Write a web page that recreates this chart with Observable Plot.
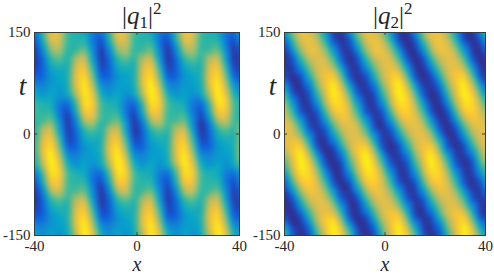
<!DOCTYPE html>
<html><head><meta charset="utf-8">
<script src="https://cdn.jsdelivr.net/npm/d3@7"></script>
<script src="https://cdn.jsdelivr.net/npm/@observablehq/plot@0.6"></script>
<style>
html,body{margin:0;padding:0;background:#fff;width:494px;height:274px;overflow:hidden}
#wrap{position:relative;width:494px;height:274px}
#wrap svg{position:absolute;top:0;overflow:visible}
.ttl{position:absolute;top:0px;font:25px "Liberation Serif",serif;color:#262626;white-space:nowrap;line-height:32px}
.ttl sub{font-size:17px;line-height:0;vertical-align:-4px}
.ttl sup{font-size:17px;line-height:0;vertical-align:10px}
</style></head><body><div id="wrap"></div>
<script>
const xGrid=[-40,-36.75,-33.5,-30.25,-27,-23.75,-20.5,-17.25,-14,-10.75,-7.5,-4.25,-1,2.25,5.5,8.75,12,15.25,18.5,21.75,25,28.25,31.5,34.75,38,41.25];
const tGrid=[150,137,124,111,98,85,72,59,46,33,20,7,-6,-19,-32,-45,-58,-71,-84,-97,-110,-123,-136,-149,-162];
const q1=[
[16,50,85,80,52,45,42,22,16,50,85,80,52,45,42,22,16,50,85,80,52,45,42,22,16,50],
[6,42,80,78,50,48,50,20,6,42,80,78,50,48,50,20,6,42,80,78,50,48,50,20,6,42],
[0,26,66,72,48,50,60,30,0,26,66,72,48,50,60,30,0,26,66,72,48,50,60,30,0,26],
[0,16,50,58,46,70,78,36,0,16,50,58,46,70,78,36,0,16,50,58,46,70,78,36,0,16],
[4,13,40,46,42,78,88,50,4,13,40,46,42,78,88,50,4,13,40,46,42,78,88,50,4,13],
[12,14,32,38,44,82,94,62,12,14,32,38,44,82,94,62,12,14,32,38,44,82,94,62,12,14],
[28,24,35,35,42,80,100,74,28,24,35,35,42,80,100,74,28,24,35,35,42,80,100,74,28,24],
[42,30,40,30,40,70,100,84,42,30,40,30,40,70,100,84,42,30,40,30,40,70,100,84,42,30],
[52,45,42,22,16,52,96,90,52,45,42,22,16,52,96,90,52,45,42,22,16,52,96,90,52,45],
[52,48,50,20,6,42,88,86,52,48,50,20,6,42,88,86,52,48,50,20,6,42,88,86,52,48],
[50,52,60,30,0,26,72,78,50,52,60,30,0,26,72,78,50,52,60,30,0,26,72,78,50,52],
[46,70,78,36,0,16,50,58,46,70,78,36,0,16,50,58,46,70,78,36,0,16,50,58,46,70],
[42,78,88,50,4,13,40,46,42,78,88,50,4,13,40,46,42,78,88,50,4,13,40,46,42,78],
[44,82,94,62,12,14,32,38,44,82,94,62,12,14,32,38,44,82,94,62,12,14,32,38,44,82],
[42,80,100,74,28,24,35,35,42,80,100,74,28,24,35,35,42,80,100,74,28,24,35,35,42,80],
[40,70,100,84,42,30,40,30,40,70,100,84,42,30,40,30,40,70,100,84,42,30,40,30,40,70],
[16,52,96,90,52,45,42,22,16,52,96,90,52,45,42,22,16,52,96,90,52,45,42,22,16,52],
[6,42,88,86,52,48,50,20,6,42,88,86,52,48,50,20,6,42,88,86,52,48,50,20,6,42],
[0,26,72,78,50,52,60,30,0,26,72,78,50,52,60,30,0,26,72,78,50,52,60,30,0,26],
[0,16,50,58,46,70,78,36,0,16,50,58,46,70,78,36,0,16,50,58,46,70,78,36,0,16],
[4,13,40,46,42,78,88,50,4,13,40,46,42,78,88,50,4,13,40,46,42,78,88,50,4,13],
[12,14,32,38,44,82,94,62,12,14,32,38,44,82,94,62,12,14,32,38,44,82,94,62,12,14],
[28,24,35,35,42,80,100,74,28,24,35,35,42,80,100,74,28,24,35,35,42,80,100,74,28,24],
[42,30,40,30,40,70,100,84,42,30,40,30,40,70,100,84,42,30,40,30,40,70,100,84,42,30],
[52,45,42,22,16,52,96,90,52,45,42,22,16,52,96,90,52,45,42,22,16,52,96,90,52,45]];
const q2=[
[29,66,84,82,66,34,3,2,29,66,84,82,66,34,3,2,29,66,84,82,66,34,3,2,29,66],
[9,50,78,84,76,50,9,0,9,50,78,84,76,50,9,0,9,50,78,84,76,50,9,0,9,50],
[2,31,68,84,82,66,34,3,2,31,68,84,82,66,34,3,2,31,68,84,82,66,34,3,2,31],
[0,9,48,74,80,78,54,12,0,9,48,74,80,78,54,12,0,9,48,74,80,78,54,12,0,9],
[3,2,28,60,78,82,72,37,3,2,28,60,78,82,72,37,3,2,28,60,78,82,72,37,3,2],
[9,0,7,43,74,86,90,58,9,0,7,43,74,86,90,58,9,0,7,43,74,86,90,58,9,0],
[36,3,2,20,62,84,100,76,36,3,2,20,62,84,100,76,36,3,2,20,62,84,100,76,36,3],
[56,11,0,7,48,78,100,88,56,11,0,7,48,78,100,88,56,11,0,7,48,78,100,88,56,11],
[70,34,3,2,29,70,94,92,70,34,3,2,29,70,94,92,70,34,3,2,29,70,94,92,70,34],
[78,50,9,0,9,52,86,90,78,50,9,0,9,52,86,90,78,50,9,0,9,52,86,90,78,50],
[82,66,34,3,2,31,68,84,82,66,34,3,2,31,68,84,82,66,34,3,2,31,68,84,82,66],
[80,78,54,12,0,9,48,74,80,78,54,12,0,9,48,74,80,78,54,12,0,9,48,74,80,78],
[78,82,72,37,3,2,28,60,78,82,72,37,3,2,28,60,78,82,72,37,3,2,28,60,78,82],
[74,86,90,58,9,0,7,43,74,86,90,58,9,0,7,43,74,86,90,58,9,0,7,43,74,86],
[62,84,100,76,36,3,2,20,62,84,100,76,36,3,2,20,62,84,100,76,36,3,2,20,62,84],
[48,78,100,88,56,11,0,7,48,78,100,88,56,11,0,7,48,78,100,88,56,11,0,7,48,78],
[29,70,94,92,70,34,3,2,29,70,94,92,70,34,3,2,29,70,94,92,70,34,3,2,29,70],
[9,52,86,90,78,50,9,0,9,52,86,90,78,50,9,0,9,52,86,90,78,50,9,0,9,52],
[2,31,68,84,82,66,34,3,2,31,68,84,82,66,34,3,2,31,68,84,82,66,34,3,2,31],
[0,9,48,74,80,78,54,12,0,9,48,74,80,78,54,12,0,9,48,74,80,78,54,12,0,9],
[3,2,28,60,78,82,72,37,3,2,28,60,78,82,72,37,3,2,28,60,78,82,72,37,3,2],
[9,0,7,43,74,86,90,58,9,0,7,43,74,86,90,58,9,0,7,43,74,86,90,58,9,0],
[36,3,2,20,62,84,100,76,36,3,2,20,62,84,100,76,36,3,2,20,62,84,100,76,36,3],
[56,11,0,7,48,78,100,88,56,11,0,7,48,78,100,88,56,11,0,7,48,78,100,88,56,11],
[70,34,3,2,29,70,94,92,70,34,3,2,29,70,94,92,70,34,3,2,29,70,94,92,70,34]];
const parula=["#352a87","#0f5cdd","#1481d6","#06a4ca","#2eb7a4","#87bf77","#d1bb59","#fec832","#f9fb0e"];
const xTicks=[-40,0,40], tTicks=[-150,0,150];
const FONT="Liberation Serif, serif", INK="#3a3a3a";

function panel(grid,left,ml,mr){
  const pts=[];
  grid.forEach((row,i)=>row.forEach((v,j)=>pts.push({x:xGrid[j],t:tGrid[i],v})));
  const svg=Plot.plot({
    width:247,height:274,marginLeft:ml,marginRight:mr,marginTop:32,marginBottom:39,
    style:{background:"transparent",fontFamily:FONT,fontSize:"15px",color:"#262626",overflow:"visible"},
    x:{domain:[-40,40]},y:{domain:[-150,150]},
    color:{type:"linear",domain:[0,100],interpolate:d3.piecewise(d3.interpolateRgb,parula)},
    marks:[
      Plot.raster(pts,{x:"x",y:"t",fill:"v",interpolate:"barycentric",blur:2,x1:-40,x2:40,y1:-150,y2:150}),
      Plot.axisX({ticks:xTicks,tickSize:0,tickPadding:5,label:null,tickFormat:d=>d,fontSize:15,fontFamily:FONT}),
      Plot.axisY({ticks:tTicks,tickSize:0,tickPadding:4,label:null,tickFormat:d=>d,fontSize:15,fontFamily:FONT}),
      Plot.gridX([0],{y1:-150,y2:-146,stroke:INK,strokeOpacity:1}),
      Plot.gridX([0],{y1:150,y2:146,stroke:INK,strokeOpacity:1}),
      Plot.gridY([0],{x1:-40,x2:-38.8,stroke:INK,strokeOpacity:1}),
      Plot.gridY([0],{x1:40,x2:38.8,stroke:INK,strokeOpacity:1}),
      Plot.frame({stroke:INK,strokeWidth:1}),
      Plot.text(["x"],{frameAnchor:"bottom",dy:35,fontStyle:"italic",fontSize:20,fontFamily:FONT,fill:"#262626",lineAnchor:"bottom"}),
      Plot.text(["t"],{frameAnchor:"left",dx:-12,dy:-48,fontStyle:"italic",fontSize:27,fontFamily:FONT,fill:"#262626",textAnchor:"middle"})
    ]});
  svg.style.left=left+"px";
  return svg;
}
const wrap=document.getElementById("wrap");
wrap.append(panel(q1,0,34,8));
wrap.append(panel(q2,247,37,9));
const titles=[["1",122],["2",373]];
for(const [n,x] of titles){
  const d=document.createElement("div");d.className="ttl";d.style.left=x+"px";
  d.innerHTML=`|<i>q</i><sub>${n}</sub>|<sup>2</sup>`;
  wrap.append(d);
}
</script></body></html>
